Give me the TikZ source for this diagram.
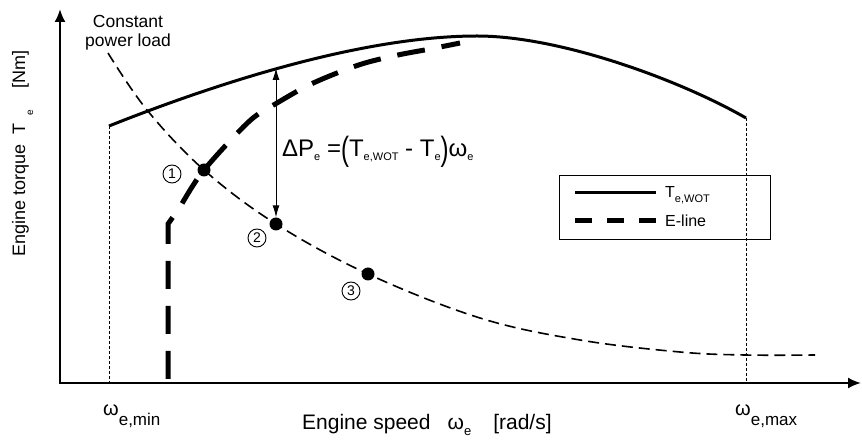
\documentclass[tikz,border=0pt]{standalone}
\usepackage{fontspec}
\setmainfont{Liberation Sans}
\usetikzlibrary{arrows.meta}
\newcommand\sbx[3]{\raisebox{-#1}{\fontsize{#2}{#2}\selectfont #3}}
\newcommand\tallparen[1]{\raisebox{-4pt}{\scalebox{1}[1.4]{#1}}}
\begin{document}
\begin{tikzpicture}[x=1pt,y=-1pt,
  axis/.style={line width=2pt,-{Latex[length=13pt,width=11pt]}},
  wot/.style={line width=3pt},
  eline/.style={line width=5pt,dash pattern=on 28pt off 17pt},
  cpl/.style={line width=1.6pt,dash pattern=on 11pt off 6pt},
  guide/.style={line width=0.8pt,dash pattern=on 3pt off 2pt},
  dot/.style={circle,fill=black,inner sep=0pt,minimum size=13pt},
  num/.style={circle,draw,line width=0.9pt,inner sep=0pt,minimum size=18pt,font=\fontsize{14}{14}\selectfont},
  lbl/.style={anchor=base west,inner sep=0pt},
  twoarrow/.style={line width=1pt,{Latex[length=12pt,width=7pt]}-{Latex[length=12pt,width=7pt]}},
]
\useasboundingbox (0,0) rectangle (862,443);
% axes
\coordinate (o) at (60,383);
\coordinate (ytip) at (60,9);
\coordinate (xtip) at (861,383);
\draw[axis] (60,384) -- (ytip);
\draw[axis] (59,383) -- (xtip);
% WOT curve
\coordinate (w0) at (109,126);
\coordinate (wpk) at (477,36);
\coordinate (w1) at (746,118);
\draw[wot] (w0) .. controls (250,70) and (380,36) .. (wpk) .. controls (560,36) and (680,80) .. (w1);
\draw[guide] (w0) -- (w0 |- o);
\draw[guide] (w1) -- (w1 |- o);
% constant power load
\draw[cpl] plot[smooth,tension=0.6] coordinates {(108,53) (147,110) (204,170) (276,224) (368,274) (480,318) (580,340) (680,352) (745,355) (815,355)};
% E-line
\draw[eline] (168,379) -- (168,224) -- plot[smooth,tension=0.55] coordinates {(180,207) (192,187) (204,170) (228,143) (253,118) (277,103) (307,86) (337,73) (365,63) (398,55) (430,49) (460,43)};
% points
\node[dot] (p1) at (204,170) {};
\node[dot] (p2) at (276,224) {};
\node[dot] (p3) at (368,274) {};
\node[num] (n1) at (172,174) {1};
\node[num] (n2) at (257,238) {2};
\node[num] (n3) at (351,291) {3};
% delta arrow
\coordinate (wt) at (276,68);
\draw[twoarrow] (wt) -- (p2);
% equation
\node[lbl] (eq) at (282,157) {\fontsize{24}{24}\selectfont ΔP\sbx{4pt}{11}{e} =\tallparen{(}T\sbx{4pt}{11}{e,WOT} - T\sbx{4pt}{11}{e}\tallparen{)}ω\sbx{4pt}{11}{e}};
% constant power load label
\node[anchor=north,inner sep=0pt,align=center,font=\fontsize{17.5}{19}\selectfont] (cpltxt) at (128,15) {Constant\\power load};
% legend
\node[draw,line width=1.2pt,minimum width=211pt,minimum height=64pt,anchor=north west,inner sep=0pt] (leg) at (559,175) {};
\coordinate (l1a) at (575,193);
\coordinate (l1b) at (656,193);
\coordinate (l2a) at (575,221);
\coordinate (l2b) at (656,221);
\draw[wot] (l1a) -- (l1b);
\draw[line width=5pt,dash pattern=on 17pt off 15pt] (l2a) -- (l2b);
\node[lbl] (legT) at (665,198) {\fontsize{16}{16}\selectfont T\sbx{5pt}{11}{e,WOT}};
\node[lbl] (legE) at (665,227) {\fontsize{16}{16}\selectfont E-line};
% axis labels
\node[lbl] (wmin) at (103,415) {\fontsize{20}{20}\selectfont ω\sbx{10pt}{17}{e,min}};
\node[lbl] (wmax) at (735,415) {\fontsize{20}{20}\selectfont ω\sbx{10pt}{17}{e,max}};
\node[lbl] (xl) at (302,429) {\fontsize{21}{21}\selectfont Engine speed\hspace{17pt}ω\sbx{6pt}{13}{e}\hspace{22pt}[rad/s]};
\node[lbl,rotate=90] (yl) at (25,257) {\fontsize{18}{18}\selectfont Engine torque\hspace{10pt}T\hspace{8pt}\sbx{8pt}{10}{e}\hspace{22pt}[Nm]};
\end{tikzpicture}
\end{document}
